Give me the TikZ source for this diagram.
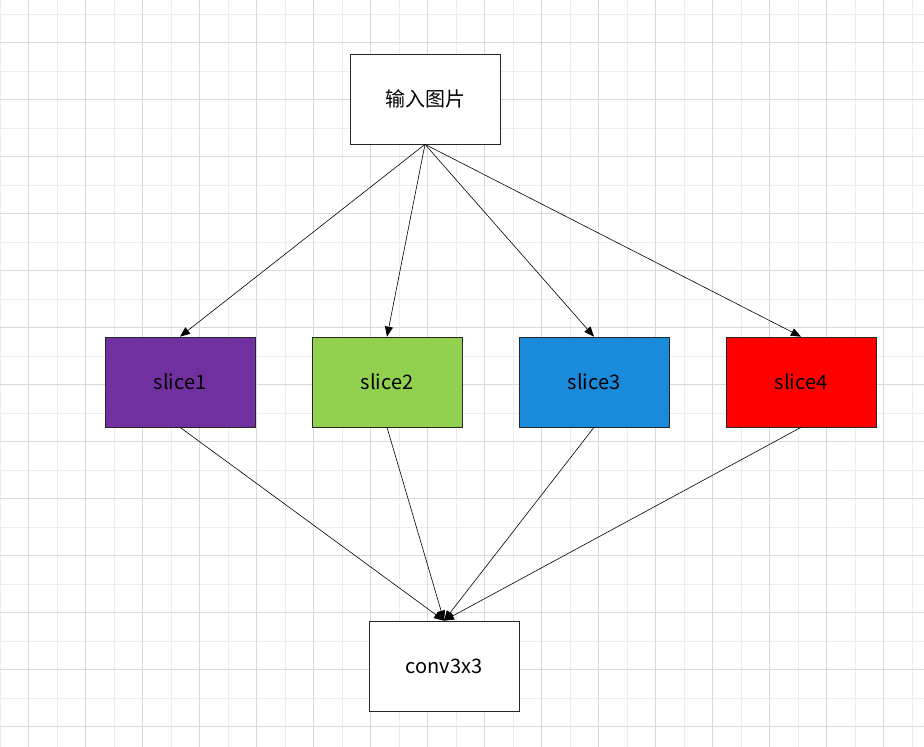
\documentclass[tikz,border=0pt]{standalone}
\usepackage{fontspec}
\setmainfont{Noto Sans CJK SC}
\usetikzlibrary{arrows.meta}
\definecolor{gridmajor}{HTML}{D9D9D9}
\definecolor{gridminor}{HTML}{EDEDED}
\definecolor{slicepurple}{HTML}{7030A0}
\definecolor{slicegreen}{HTML}{92D050}
\definecolor{sliceblue}{HTML}{1A8ADB}
\definecolor{slicered}{HTML}{FF0000}
\tikzset{
    box/.style={draw=black!85, line width=0.7pt, minimum width=150pt, minimum height=90pt, inner sep=0pt, font=\fontsize{20}{22}\selectfont},
    link/.style={line width=0.6pt, -{Triangle[length=10pt,width=8pt]}}
}
\begin{document}
\begin{tikzpicture}[x=1pt, y=-1pt]
    \useasboundingbox (0, 0) rectangle (924, 747);
    \fill[white] (0, 0) rectangle (924, 747);
    
    % Background grid
    \foreach \gx in {0, 57, ..., 924} {
        \draw[gridminor, line width=0.8pt] (\gx, 0) -- (\gx, 747);
    }
    \foreach \gy in {14, 71, ..., 747} {
        \draw[gridminor, line width=0.8pt] (0, \gy) -- (924, \gy);
    }
    \foreach \gx in {28.5, 85.5, ..., 924} {
        \draw[gridmajor, line width=0.8pt] (\gx, 0) -- (\gx, 747);
    }
    \foreach \gy in {42.5, 99.5, ..., 747} {
        \draw[gridmajor, line width=0.8pt] (0, \gy) -- (924, \gy);
    }
    
    % Input
    \node[box, fill=white] (input) at (425, 99) {输入图片};
    
    % Slices
    \node[box, fill=slicepurple] (slice1) at (180, 382) {slice1};
    \node[box, fill=slicegreen] (slice2) at (387, 382) {slice2};
    \node[box, fill=sliceblue] (slice3) at (594, 382) {slice3};
    \node[box, fill=slicered] (slice4) at (801, 382) {slice4};
    
    % Convolution
    \node[box, fill=white] (conv) at (444, 666) {conv3x3};
    
    % Connectors
    \foreach \s in {slice1, slice2, slice3, slice4} {
        \draw[link] (input.south) -- (\s.north);
        \draw[link] (\s.south) -- (conv.north);
    }
\end{tikzpicture}
\end{document}
